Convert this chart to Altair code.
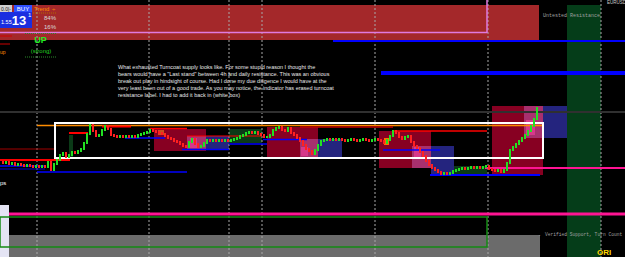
import altair as alt
import pandas as pd

# ---------------- data ----------------
# price bars: bar time index (x) and close level (row units, 0 = top)
bar_time = list(range(0, 540, 3))
bar_close = [
    162, 163, 162, 164, 163, 165, 164, 165, 166, 165,
    166, 167, 166, 167, 166, 167, 162, 170, 164, 160,
    155, 153, 157, 155, 152, 153, 151, 149, 143, 134,
    125, 131, 136, 135, 130, 126, 129, 135, 136, 137,
    136, 137, 136, 137, 136, 137, 135, 134, 133, 132,
    130, 131, 132, 133, 134, 136, 138, 139, 141, 142,
    144, 146, 147, 142, 139, 144, 147, 146, 143, 140,
    141, 140, 141, 140, 141, 140, 141, 140, 139, 138,
    136, 135, 133, 132, 133, 132, 134, 135, 137, 137,
    135, 130, 128, 127, 130, 131, 128, 133, 135, 138,
    141, 145, 149, 151, 154, 150, 145, 141, 140, 139,
    140, 139, 140, 139, 140, 141, 140, 139, 140, 141,
    140, 139, 140, 141, 140, 139, 140, 141, 143, 140,
    136, 131, 133, 137, 139, 137, 136, 142, 146, 148,
    152, 156, 161, 165, 168, 170, 172, 174, 173, 174,
    173, 171, 170, 169, 168, 169, 168, 167, 168, 167,
    168, 167, 166, 169, 170, 171, 170, 172, 170, 163,
    150, 147, 144, 141, 138, 135, 131, 126, 119, 108,
]

# filled zones
zone_x0 = [0, 567, 9, 0, 0, 14, 0,
           69, 154, 206, 187, 190, 229, 267, 318, 300, 301,
           379, 431, 412, 414, 454, 492, 543, 524, 526, 158, 384]
zone_x1 = [539, 601, 540, 9, 12, 32, 32,
           73, 206, 229, 206, 197, 262, 318, 342, 318, 308,
           431, 454, 431, 421, 487, 543, 567, 543, 535, 164, 389]
zone_y0 = [5, 5, 235, 205, 5, 5, 12,
           135, 129, 136, 136, 138, 129, 127, 139, 139, 147,
           131, 146, 146, 147, 166, 106, 106, 106, 120, 130, 138]
zone_y1 = [40, 257, 257, 257, 12, 12, 28,
           157, 151, 150, 150, 148, 143, 158, 159, 158, 156,
           168, 175, 168, 157, 174, 175, 138, 138, 135, 135, 145]
zone_col = ["#a4282a", "#053d19", "#6b6b6b", "#e4e4f4", "#d0d0d0", "#3050ff", "#1a2ee0",
            "#0b3a17", "#870022", "#24247e", "#a8306e", "#d6388a", "#0b3a17",
            "#870022", "#24247e", "#a8306e", "#d6388a",
            "#870022", "#24247e", "#a8306e", "#d6388a", "#0b3a17",
            "#870022", "#24247e", "#a8306e", "#d6388a", "#c8501e", "#ff6a00"]

# solid horizontal levels
lvl_x0 = [333, 381, 0, 0, 37, 0, 0, 0, 0, 37, 69, 102, 150, 125, 187, 182, 229, 263,
          300, 393, 383, 430, 485, 9, 0, 0]
lvl_x1 = [625, 625, 625, 487, 543, 55, 70, 45, 45, 187, 88, 131, 187, 165, 262, 229, 267, 307,
          393, 487, 440, 540, 625, 625, 12, 10]
lvl_y = [41, 73, 112, 32.5, 125.5, 149, 160, 166, 169, 172, 133, 126.5, 128.5, 138, 136,
         149.5, 144, 139.5, 127, 131, 150, 175, 168, 214, 36, 44]
lvl_col = ["#0000ff", "#0000ff", "#303030", "#e07ae0", "#ff8c00", "#a00000", "#ff0000",
           "#0000ff", "#0000cc", "#0000ff", "#ff0000", "#ff0000", "#ff0000", "#0000ff",
           "#ff0000", "#0000ff", "#0000ff", "#0000ff", "#c00000", "#ff0000", "#0000ff",
           "#0000ff", "#ff1493", "#ff1493", "#cc0000", "#cc0000"]
lvl_w = [2, 4, 2, 1.5, 1.5, 1, 2, 1.5, 1, 1.5, 2, 2, 1.5, 1.5, 1, 1.5, 1.5, 1.5,
         1.5, 1.5, 1.5, 2, 2, 3, 1, 1]

# dashed separators (period grid)
grid_x = [37, 149, 229, 262, 375, 488, 601]

# outlined boxes
box_x0 = [55, 0]
box_x1 = [543, 487]
box_y0 = [123, 217]
box_y1 = [158, 247]
box_col = ["#ffffff", "#148a14"]
box_w = [2, 1.5]

note_lines = [
    "What exhausted Turncoat supply looks like.  For some stupid reason I thought the",
    "bears would have a \"Last stand\" between 4h and daily resistance.  This was an obvious",
    "break out play in hindsight of course.  Had I done my due diligence I would have at the",
    "very least been out of a good trade.   As you may notice,  the indicator has erased turncoat",
    "resistance label. I had to  add it back in (white box)",
]

# ---------------- build tables ----------------
X = alt.Scale(domain=[0, 625], nice=False, zero=False)
Y = alt.Scale(domain=[257, 0], nice=False, zero=False)


def xe(f):
    return alt.X(f, type="quantitative", scale=X, axis=None)


def ye(f):
    return alt.Y(f, type="quantitative", scale=Y, axis=None)


zones = pd.DataFrame(dict(x0=zone_x0, x1=zone_x1, y0=zone_y0, y1=zone_y1, c=zone_col))
zone_layer = alt.Chart(zones).mark_rect().encode(
    x=xe("x0"), x2="x1", y=ye("y0"), y2="y1",
    color=alt.Color("c:N", scale=None),
)

grid = pd.DataFrame(dict(x=grid_x, y0=[0] * len(grid_x), y1=[257] * len(grid_x)))
grid_layer = alt.Chart(grid).mark_rule(strokeDash=[2, 2], color="#a8a8a8", strokeWidth=1).encode(
    x=xe("x"), y=ye("y0"), y2="y1"
)

lv = pd.DataFrame(dict(x0=lvl_x0, x1=lvl_x1, y=lvl_y, c=lvl_col, w=lvl_w))
lvl_layer = alt.Chart(lv).mark_rule().encode(
    x=xe("x0"), x2="x1", y=ye("y"),
    color=alt.Color("c:N", scale=None),
    strokeWidth=alt.StrokeWidth("w:Q", scale=None),
)

vline = pd.DataFrame(dict(x=[487], y0=[0], y1=[33]))
vline_layer = alt.Chart(vline).mark_rule(color="#e07ae0", strokeWidth=1.5).encode(
    x=xe("x"), y=ye("y0"), y2="y1"
)

dots = pd.DataFrame(dict(x0=[25, 25, 33], x1=[56, 56, 56], y=[33.5, 57, 13],
                         c=["#2a8a2a", "#2a8a2a", "#b06a00"]))
dots_layer = alt.Chart(dots).mark_rule(strokeDash=[1, 1], strokeWidth=1).encode(
    x=xe("x0"), x2="x1", y=ye("y"), color=alt.Color("c:N", scale=None)
)

boxes = pd.DataFrame(dict(x0=box_x0, x1=box_x1, y0=box_y0, y1=box_y1, c=box_col, w=box_w))
box_layer = alt.Chart(boxes).mark_rect(filled=False).encode(
    x=xe("x0"), x2="x1", y=ye("y0"), y2="y1",
    stroke=alt.Stroke("c:N", scale=None),
    strokeWidth=alt.StrokeWidth("w:Q", scale=None),
)

rows = []
for i in range(1, len(bar_close)):
    o, c = bar_close[i - 1], bar_close[i]
    rows.append(dict(t=bar_time[i], hi=min(o, c) - 1.0, lo=max(o, c) + 1.0,
                     col="#22e022" if c <= o else "#ff2020"))
bars = pd.DataFrame(rows)
bar_layer = alt.Chart(bars).mark_rule(strokeWidth=2).encode(
    x=xe("t"), y=ye("hi"), y2="lo", color=alt.Color("col:N", scale=None)
)


def text_layer(items, font="Liberation Sans", weight="normal", align="left"):
    df = pd.DataFrame(items, columns=["x", "y", "txt", "c", "s"])
    return alt.Chart(df).mark_text(align=align, baseline="middle", font=font, fontWeight=weight).encode(
        x=xe("x"), y=ye("y"), text="txt:N",
        color=alt.Color("c:N", scale=None), size=alt.Size("s:Q", scale=None),
    )


note_layer = text_layer([(118, 67 + 7 * k, line, "#e8e8e8", 5.5) for k, line in enumerate(note_lines)])
mono_layer = text_layer([
    (543, 15, "Untested Resistance", "#a0a0a0", 5),
    (545, 234.5, "Verified Support, Turn Count", "#a0a0a0", 4.6),
    (538, 234.5, "-", "#a0a0a0", 5),
], font="Liberation Mono")
small_layer = text_layer([
    (607, 3, "EURUSD", "#cccccc", 4.5),
    (1, 22, "1.55", "#ffffff", 5.5),
    (28, 15, "1", "#ffffff", 6),
    (34, 8.5, "Trend", "#ff8c00", 6),
    (52, 8.5, "÷", "#ff8c00", 6),
    (0, 183, "ps", "#ffffff", 6),
    (0, 52, "up", "#ff8c00", 5),
    (1, 8.5, "0.0|-", "#202020", 5),
])
right_layer = text_layer([
    (56, 18, "84%", "#d8d8d8", 6),
    (56, 26.5, "16%", "#d8d8d8", 6),
], align="right")
center_layer = text_layer([
    (23, 8.5, "BUY", "#ffffff", 6),
    (41, 51, "(strong)", "#22cc22", 6),
], align="center")
bold_layer = text_layer([
    (19, 20.5, "13", "#ffffff", 13),
    (40.5, 40, "UP", "#22ee22", 9),
], weight="bold", align="center")
yellow_layer = text_layer([
    (597, 253, "ORI", "#ffd700", 8),
], weight="bold", align="left")

chart = alt.layer(
    zone_layer, grid_layer, lvl_layer, vline_layer, dots_layer, box_layer, bar_layer,
    note_layer, mono_layer, small_layer, right_layer, center_layer, bold_layer, yellow_layer,
).properties(
    width=625, height=257, background="black", padding=0, autosize="none"
).configure_view(stroke=None)

chart.save("out.html", embed_options={"renderer": "svg", "actions": False})
